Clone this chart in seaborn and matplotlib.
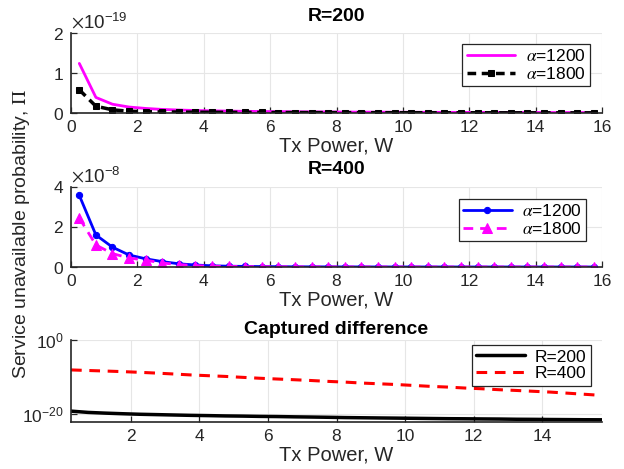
import numpy as np
import matplotlib
matplotlib.use("Agg")
import matplotlib.pyplot as mp
import matplotlib.ticker as mt
import seaborn as sns

# Tx power samples
tx_power = [0.25, 0.75, 1.25, 1.75, 2.25, 2.75, 3.25, 3.75, 4.25, 4.75, 5.25, 5.75,
            6.25, 6.75, 7.25, 7.75, 8.25, 8.75, 9.25, 9.75, 10.25, 10.75, 11.25, 11.75,
            12.25, 12.75, 13.25, 13.75, 14.25, 14.75, 15.25, 15.75]

# R=200 (units of 1e-19)
r200_a1200 = [1.24, 0.39, 0.22, 0.15, 0.115, 0.09, 0.075, 0.063, 0.055, 0.048, 0.043, 0.038,
              0.035, 0.032, 0.029, 0.027, 0.025, 0.023, 0.022, 0.020, 0.019, 0.018, 0.017, 0.016,
              0.015, 0.015, 0.014, 0.013, 0.013, 0.012, 0.012, 0.011]
r200_a1800 = [0.58, 0.17, 0.08, 0.045, 0.035, 0.028, 0.024, 0.021, 0.019, 0.017, 0.016, 0.014,
              0.013, 0.012, 0.011, 0.011, 0.010, 0.009, 0.009, 0.008, 0.008, 0.008, 0.007, 0.007,
              0.007, 0.006, 0.006, 0.006, 0.006, 0.005, 0.005, 0.005]

# R=400 (units of 1e-8)
r400_a1200 = [3.58, 1.60, 0.99, 0.60, 0.41, 0.27, 0.16, 0.10, 0.06, 0.04, 0.03, 0.02,
              0.015, 0.010, 0.008, 0.006, 0.005, 0.004, 0.003, 0.003, 0.002, 0.002, 0.002, 0.001,
              0.001, 0.001, 0.001, 0.001, 0.001, 0.001, 0.001, 0.001]
r400_a1800 = [2.45, 1.10, 0.67, 0.45, 0.34, 0.20, 0.12, 0.07, 0.04, 0.03, 0.02, 0.015,
              0.010, 0.008, 0.006, 0.005, 0.004, 0.003, 0.002, 0.002, 0.002, 0.001, 0.001, 0.001,
              0.001, 0.001, 0.001, 0.001, 0.001, 0.001, 0.001, 0.001]

# captured difference
diff_r200 = [5.6e-20, 2.5e-20, 1.6e-20, 1.1e-20, 7.9e-21, 6.3e-21, 5.0e-21, 4.0e-21,
             3.4e-21, 2.8e-21, 2.5e-21, 2.1e-21, 1.9e-21, 1.6e-21, 1.4e-21, 1.2e-21,
             1.0e-21, 8.9e-22, 7.9e-22, 7.1e-22, 6.3e-22, 5.6e-22, 5.0e-22, 4.7e-22,
             4.3e-22, 4.0e-22, 3.5e-22, 3.3e-22, 3.0e-22, 2.8e-22, 2.6e-22, 2.5e-22]
diff_r400 = [8.0e-9, 5.6e-9, 4.0e-9, 2.8e-9, 1.8e-9, 1.1e-9, 6.3e-10, 3.5e-10,
             2.2e-10, 1.4e-10, 7.9e-11, 4.5e-11, 2.8e-11, 1.8e-11, 1.1e-11, 6.3e-12,
             4.0e-12, 2.2e-12, 1.4e-12, 8.9e-13, 5.0e-13, 2.8e-13, 1.8e-13, 1.0e-13,
             6.3e-14, 3.5e-14, 2.2e-14, 1.3e-14, 7.9e-15, 4.0e-15, 2.0e-15, 1.0e-15]

sns.set_style("white")
mp.rcParams['font.family'] = ['Liberation Sans', 'DejaVu Sans']
mp.rcParams['mathtext.fontset'] = 'stix'
grey = '#262626'

fig = mp.figure(figsize=(6.24, 4.69), dpi=100)
ax1 = fig.add_axes([0.1138, 0.759, 0.851, 0.1706])
ax2 = fig.add_axes([0.1138, 0.4307, 0.851, 0.1706])
ax3 = fig.add_axes([0.1138, 0.1002, 0.851, 0.1748])

x = np.array(tx_power)

sns.lineplot(x=x, y=np.array(r200_a1200) * 1e-19, ax=ax1, color='#FF00FF', lw=2,
             label=r'$\alpha$=1200')
sns.lineplot(x=x, y=np.array(r200_a1800) * 1e-19, ax=ax1, color='black', lw=2.5,
             linestyle=(0, (2.5, 1.6)), marker='s', ms=4.5, mec='black',
             label=r'$\alpha$=1800')

sns.lineplot(x=x, y=np.array(r400_a1200) * 1e-8, ax=ax2, color='#0000FF', lw=2,
             marker='o', ms=4.5, mec='#0000FF', label=r'$\alpha$=1200')
sns.lineplot(x=x, y=np.array(r400_a1800) * 1e-8, ax=ax2, color='#FF00FF', lw=2,
             linestyle=(0, (3.5, 2.5)), marker='^', ms=7, mec='#FF00FF',
             label=r'$\alpha$=1800')

sns.lineplot(x=x, y=diff_r200, ax=ax3, color='black', lw=2.5, label='R=200')
sns.lineplot(x=x, y=diff_r400, ax=ax3, color='#FF0000', lw=2.2,
             linestyle=(0, (3.5, 2.5)), label='R=400')

for ax in (ax1, ax2, ax3):
    ax.grid(True, color='#e6e6e6', lw=0.8)
    ax.set_axisbelow(True)
    for s in ('top', 'right'):
        ax.spines[s].set_visible(False)
    for s in ('left', 'bottom'):
        ax.spines[s].set_color(grey)
        ax.spines[s].set_linewidth(1.2)
    ax.tick_params(bottom=True, left=True, direction='in', length=4, width=0.9,
                   colors=grey, labelsize=12.5, labelcolor=grey, pad=5)
    ax.set_xlabel('Tx Power, W', fontsize=14.5, color=grey, labelpad=1)
    ax.set_ylabel('')

for ax in (ax1, ax2):
    ax.set_xlim(0, 16)
    ax.set_xticks(range(0, 17, 2))
    fmt = mt.ScalarFormatter(useMathText=True)
    fmt.set_powerlimits((0, 0))
    ax.yaxis.set_major_formatter(fmt)
    ax.yaxis.get_offset_text().set_fontsize(13.5)
    ax.yaxis.get_offset_text().set_color(grey)

ax1.set_ylim(0, 2e-19)
ax1.set_yticks([0, 1e-19, 2e-19])
ax2.set_ylim(0, 4e-8)
ax2.set_yticks([0, 2e-8, 4e-8])

ax3.set_yscale('log')
ax3.set_xlim(0.25, 15.75)
ax3.set_xticks(range(2, 16, 2))
ax3.set_ylim(10 ** -22.2, 1)
ax3.set_yticks([1e-20, 1])
ax3.yaxis.set_minor_locator(mt.NullLocator())

ax1.set_title('R=200', fontsize=14, fontweight='bold', color='black', pad=9)
ax2.set_title('R=400', fontsize=14, fontweight='bold', color='black', pad=9)
ax3.set_title('Captured difference', fontsize=14, fontweight='bold', color='black', pad=4)

leg_kw = dict(loc='upper right', fontsize=12.5, fancybox=False, framealpha=1,
              edgecolor=grey, handlelength=2.8, borderpad=0.25, labelspacing=0.1,
              handletextpad=0.6, borderaxespad=0, labelcolor='black')
l1 = ax1.legend(bbox_to_anchor=(0.977, 0.8625), **leg_kw)
l2 = ax2.legend(bbox_to_anchor=(0.970, 0.85), **leg_kw)
l3 = ax3.legend(bbox_to_anchor=(0.979, 0.939), **leg_kw)
for l in (l1, l2, l3):
    l.get_frame().set_linewidth(0.9)

fig.text(0.035, 0.5, r'Service unavailable probability, $\Pi$', rotation=90,
         ha='center', va='center', fontsize=14, color=grey)

mp.savefig('out.png', dpi=100)
